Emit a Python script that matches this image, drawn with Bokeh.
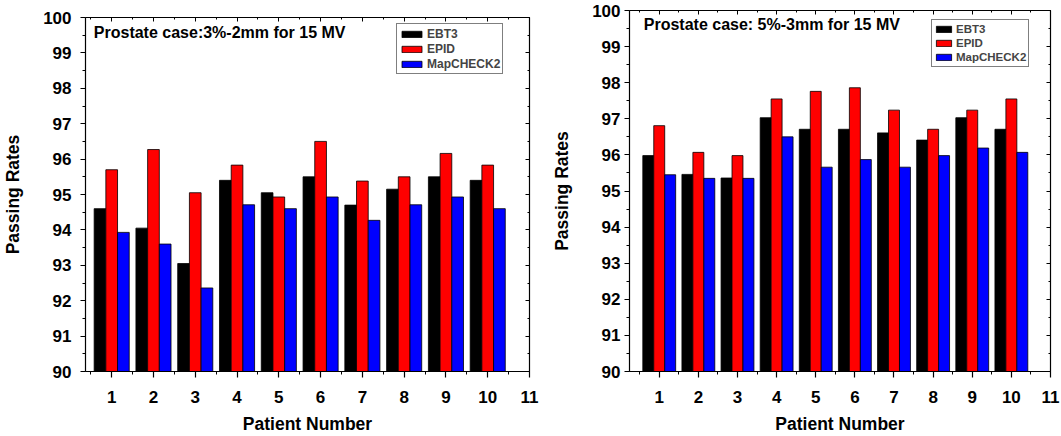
import numpy as np
from bokeh.plotting import figure
from bokeh.layouts import row
from bokeh.models import (ColumnDataSource, Range1d, SingleIntervalTicker, LinearAxis,
                          Legend, LegendItem, Label, CustomJSTickFormatter)
from bokeh.embed import file_html
from bokeh.resources import INLINE

patients = [1, 2, 3, 4, 5, 6, 7, 8, 9, 10]
series_names = ["EBT3", "EPID", "MapCHECK2"]
series_colors = ["#000000", "#ff0000", "#0000ff"]

# Left panel: Prostate case 3%-2mm for 15 MV
left_ebt3 = [94.6, 94.05, 93.05, 95.4, 95.05, 95.5, 94.7, 95.15, 95.5, 95.4]
left_epid = [95.7, 96.27, 95.05, 95.83, 94.93, 96.5, 95.38, 95.5, 96.16, 95.83]
left_mapcheck2 = [93.93, 93.6, 92.36, 94.71, 94.6, 94.93, 94.27, 94.71, 94.93, 94.6]

# Right panel: Prostate case 5%-3mm for 15 MV
right_ebt3 = [95.98, 95.46, 95.36, 97.03, 96.71, 96.71, 96.61, 96.41, 97.03, 96.71]
right_epid = [96.81, 96.07, 95.98, 97.55, 97.76, 97.86, 97.24, 96.71, 97.24, 97.55]
right_mapcheck2 = [95.45, 95.35, 95.35, 96.5, 95.66, 95.87, 95.66, 95.98, 96.19, 96.07]

left_title = "Prostate case:3%-2mm for 15 MV"
right_title = "Prostate case: 5%-3mm for 15 MV"
x_label = "Patient Number"
y_label = "Passing Rates"

FONT = "Liberation Sans"


def make_panel(values, title, width, border_left, border_right, border_top, x_start,
               y_tick_standoff, title_pos, legend_cfg):
    p = figure(width=width, height=436, output_backend="svg", toolbar_location=None,
               title=None, frame_align=False,
               x_range=Range1d(x_start, 11), y_range=Range1d(90, 100),
               min_border_left=border_left, min_border_right=border_right,
               min_border_top=border_top, min_border_bottom=64)
    p.grid.visible = False
    p.outline_line_color = None
    p.background_fill_color = "white"
    p.border_fill_color = "white"

    bw = 0.28
    offsets = [-bw, 0.0, bw]
    renderers = []
    for vals, off, col in zip(values, offsets, series_colors):
        src = ColumnDataSource(dict(x=np.array(patients, dtype=float) + off, top=vals))
        r = p.vbar(x="x", top="top", bottom=90, width=bw, source=src,
                   fill_color=col, line_color="#000000", line_width=0.8)
        renderers.append(r)

    # axes
    p.xaxis.ticker = SingleIntervalTicker(interval=1, num_minor_ticks=2)
    p.yaxis.ticker = SingleIntervalTicker(interval=1, num_minor_ticks=2)
    for ax in (p.xaxis[0], p.yaxis[0]):
        ax.axis_line_color = "black"
        ax.axis_line_width = 1.2
        ax.major_tick_line_width = 1.2
        ax.major_label_text_font = FONT
        ax.major_label_text_font_style = "bold"
        ax.major_label_text_font_size = "17px"
        ax.major_label_text_color = "black"
        ax.axis_label_text_font = FONT
        ax.axis_label_text_font_style = "bold"
        ax.axis_label_text_font_size = "17.5px"
        ax.axis_label_text_color = "black"
        ax.major_tick_in = 0
        ax.minor_tick_in = 0
    p.xaxis.axis_label = x_label
    p.yaxis.axis_label = y_label
    p.xaxis.major_tick_out = 6
    p.xaxis.minor_tick_out = 3
    p.xaxis.major_label_standoff = 13
    p.xaxis.axis_label_standoff = 8
    p.yaxis.major_tick_out = 5
    p.yaxis.minor_tick_out = 3
    p.yaxis.major_label_standoff = y_tick_standoff
    p.yaxis.axis_label_standoff = 17

    blank = CustomJSTickFormatter(code="return ''")
    top_ax = LinearAxis(ticker=SingleIntervalTicker(interval=1, num_minor_ticks=2),
                        formatter=blank, major_label_standoff=0,
                        major_label_text_font_size="1px",
                        major_tick_in=4, major_tick_out=0, minor_tick_in=2, minor_tick_out=0,
                        axis_line_width=1.2)
    right_ax = LinearAxis(ticker=SingleIntervalTicker(interval=1, num_minor_ticks=2),
                          formatter=blank, major_label_standoff=0,
                          major_label_text_font_size="1px",
                          major_tick_in=4, major_tick_out=0, minor_tick_in=2, minor_tick_out=0,
                          axis_line_width=1.2)
    p.add_layout(top_ax, "above")
    p.add_layout(right_ax, "right")

    tx, ty = title_pos
    p.add_layout(Label(x=tx, y=ty, text=title, text_font=FONT, text_font_style="bold",
                       text_font_size="16px", text_color="black", text_baseline="middle",
                       text_align="left"))

    lx, ly, gw, fs, lh, stand = legend_cfg
    legend = Legend(items=[LegendItem(label=n, renderers=[r]) for n, r in zip(series_names, renderers)],
                    location=(lx, ly), margin=0, padding=2, spacing=0,
                    glyph_width=gw, glyph_height=8, label_height=lh, label_standoff=stand,
                    label_text_font=FONT, label_text_font_style="bold",
                    label_text_font_size=fs, border_line_color="black", border_line_width=1,
                    background_fill_color="white", background_fill_alpha=1)
    p.add_layout(legend, "center")
    return p


left = make_panel([left_ebt3, left_epid, left_mapcheck2], left_title, width=540,
                  border_left=85, border_right=11, border_top=17, x_start=0.373,
                  y_tick_standoff=9, title_pos=(0.572, 99.563),
                  legend_cfg=(311, 297, 25, "12px", 15, 3))
right = make_panel([right_ebt3, right_epid, right_mapcheck2], right_title, width=521,
                   border_left=89, border_right=11, border_top=10, x_start=0.24,
                   y_tick_standoff=4, title_pos=(0.605, 99.613),
                   legend_cfg=(302, 304, 19, "11.5px", 14, 3))

layout = row(left, right)
open("out.html", "w").write(file_html(layout, INLINE))
